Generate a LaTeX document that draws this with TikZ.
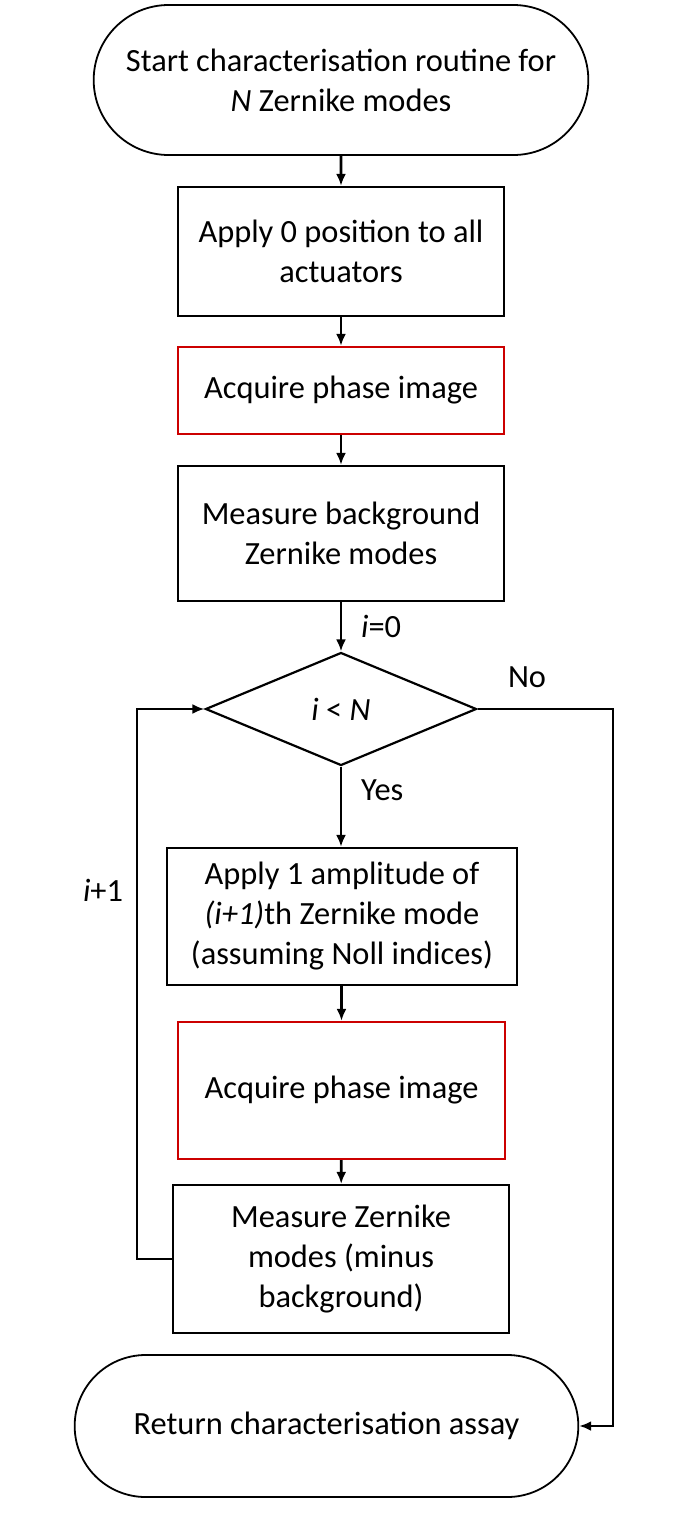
\documentclass[tikz,border=0pt]{standalone}
\usepackage{fontspec}
\setmainfont{Carlito}
\usepackage{tikz}
\usetikzlibrary{positioning}
\usetikzlibrary{shapes.geometric, shapes.misc, arrows.meta}

\begin{document}
\begin{tikzpicture}
    [
        x=0.5pt, y=-0.5pt,
        font=\fontsize{16.2}{20}\selectfont,
        >={Latex[length=6pt,width=5pt]},
        flowline/.style={->, line width=1.4pt},
        terminal/.style={rounded rectangle, draw, line width=0.9pt, align=center},
        process/.style={rectangle, draw, line width=1.1pt, align=center},
        acquire/.style={rectangle, draw=red!80!black, line width=1.1pt, align=center},
        decision/.style={diamond, draw, line width=1.1pt, inner sep=0pt, align=center}
    ]
        \useasboundingbox (0,0) rectangle (683,1516);

        \node
        [
            terminal,
            minimum width=254pt,
            minimum height=75pt
        ] (start) at (341, 80) {Start characterisation routine for\\\textit{N} Zernike modes};
        \node
        [
            process,
            minimum width=163pt,
            minimum height=64.5pt
        ] (zero) at (341, 251.5) {Apply 0 position to all\\actuators};
        \node
        [
            acquire,
            minimum width=163pt,
            minimum height=43.5pt
        ] (phaseA) at (341, 390.5) {Acquire phase image};
        \node
        [
            process,
            minimum width=163pt,
            minimum height=67.5pt
        ] (background) at (341, 533.5) {Measure background\\Zernike modes};
        \node
        [
            decision,
            minimum width=135.5pt,
            minimum height=56.5pt
        ] (check) at (341, 709) {\textit{i} < \textit{N}};
        \node
        [
            process,
            minimum width=175pt,
            minimum height=68.5pt
        ] (apply) at (342, 916.5) {Apply 1 amplitude of\\\textit{(i+1)}th Zernike mode\\(assuming Noll indices)};
        \node
        [
            acquire,
            minimum width=163.5pt,
            minimum height=68.5pt
        ] (phaseB) at (341.5, 1090.5) {Acquire phase image};
        \node
        [
            process,
            minimum width=168pt,
            minimum height=74pt
        ] (measure) at (341, 1259) {Measure Zernike\\modes (minus\\background)};
        \node
        [
            terminal,
            minimum width=258.5pt,
            minimum height=71pt
        ] (finish) at (326.5, 1426) {Return characterisation assay};

        \coordinate (noCorner) at (613, 709);
        \coordinate (loopCorner) at (137, 709);

        \draw[flowline] (start) -- (zero);
        \draw[flowline] (zero) -- (phaseA);
        \draw[flowline] (phaseA) -- (background);
        \draw[flowline] (background) -- (check) node [pos=0.5, right=6pt]{\textit{i}=0};
        \draw[flowline] (check) -- (check.south |- apply.north) node [pos=0.3, right=6pt]{Yes};
        \draw[flowline] (apply.south -| phaseB.north) -- (phaseB);
        \draw[flowline] (phaseB) -- (measure);
        \draw[flowline] (check.east) -- (noCorner) |- (finish.east);
        \node (no) at (527, 677) {No};
        \draw[flowline] (measure.west) -| (loopCorner) -- (check.west);
        \node (incr) at (103, 890) {\textit{i}+1};
    \end{tikzpicture}
\end{document}
